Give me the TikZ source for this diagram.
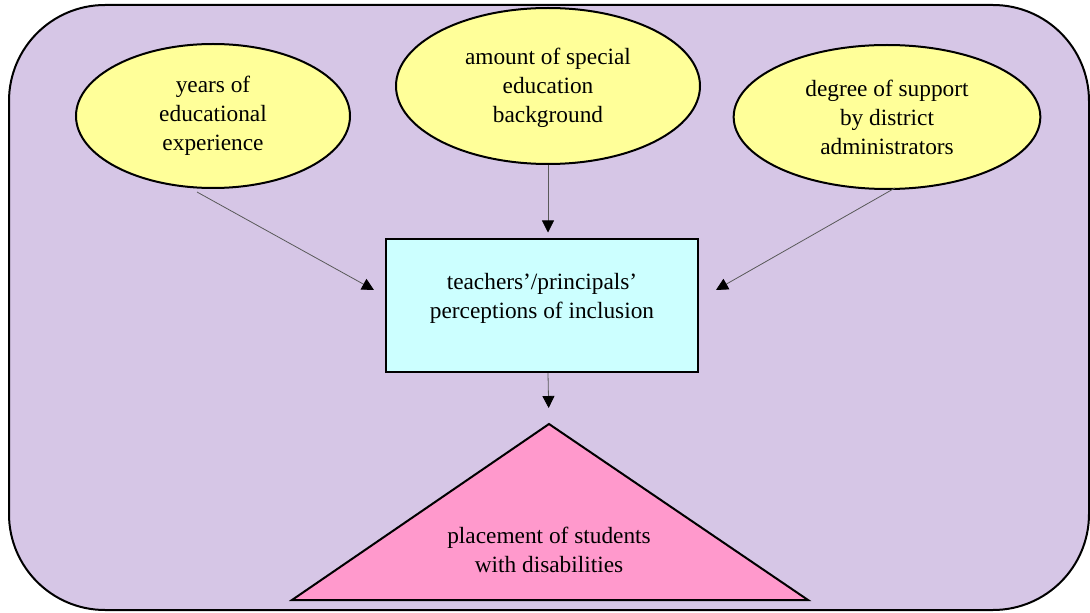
\documentclass[tikz,border=0pt]{standalone}
\usepackage{fontspec}
\setmainfont{Liberation Serif}
\usetikzlibrary{shapes.geometric,arrows.meta}
\definecolor{bgpurple}{HTML}{D6C6E6}
\definecolor{ellyellow}{HTML}{FFFF99}
\definecolor{boxcyan}{HTML}{CCFFFF}
\definecolor{tripink}{HTML}{FF99CC}
\definecolor{linegray}{HTML}{595959}
\tikzset{
  factor/.style={ellipse, draw=black, line width=1.5pt, fill=ellyellow, align=center, inner sep=0pt, font=\fontsize{17.5}{21.75}\selectfont},
  conn/.style={draw=linegray, line width=0.6pt, -{Triangle[length=9pt,width=9pt,color=black]}},
  lbl/.style={align=center, font=\fontsize{17.5}{21.75}\selectfont}
}
\begin{document}
\begin{tikzpicture}[x=0.75pt,y=-0.75pt]
\useasboundingbox (0,0) rectangle (1090,613);
\draw[fill=bgpurple, line width=1.5pt, rounded corners=72pt] (9,5) rectangle (1089,610);
\node[factor, minimum width=205.5pt, minimum height=108pt] (e1) at (213,116) {years of\\educational\\experience};
\node[factor, minimum width=228pt, minimum height=117pt] (e2) at (548,86) {};
\node[lbl] (e2t) at (548,88) {amount of special\\education\\background};
\node[factor, minimum width=230pt, minimum height=108pt] (e3) at (887,117) {degree of support\\by district\\administrators};
\node[draw=black, line width=1.5pt, fill=boxcyan, minimum width=234pt, minimum height=100pt, inner sep=0pt] (box) at (542,305.5) {};
\node[lbl] (boxt) at (542,298.5) {teachers'/principals'\\perceptions of inclusion};
\draw[line width=1.5pt, fill=tripink] (549,424) -- (808,600) -- (292,600) -- cycle;
\node[lbl] (tri) at (549,550) {placement of students\\with disabilities};
\coordinate (triapex) at (549,424);
\coordinate (s1) at (197,192);
\coordinate (t1) at (374,290);
\coordinate (s3) at (895,188);
\coordinate (t3) at (716,290);
\draw[conn] (s1) -- (t1);
\draw[conn] (s3) -- (t3);
\draw[conn, shorten >=4pt] (e2.south) -- (e2.south |- box.north);
\draw[conn, shorten >=12pt] (box.south -| e2.south) -- (triapex);
\end{tikzpicture}
\end{document}
